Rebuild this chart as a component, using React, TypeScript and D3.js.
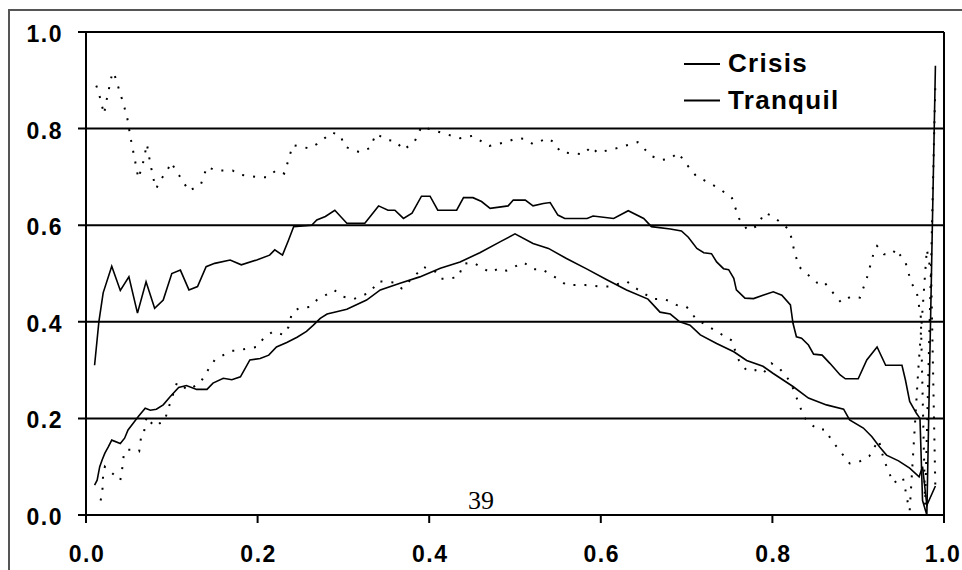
import React from "react";
import * as d3 from "d3";

const xTicks = [0, 0.2, 0.4, 0.6, 0.8, 1.0];
const yTicks = [0, 0.2, 0.4, 0.6, 0.8, 1.0];
const legendLabels = ["Crisis", "Tranquil"];
const pageNumber = "39";

// Crisis (solid, upper curve)
const crisis: [number, number][] = [
  [0.01,0.31],[0.015,0.40],[0.02,0.46],[0.03,0.515],[0.04,0.465],[0.05,0.493],[0.06,0.418],[0.07,0.483],[0.08,0.428],[0.09,0.445],
  [0.10,0.50],[0.11,0.507],[0.12,0.466],[0.13,0.473],[0.14,0.514],[0.15,0.521],[0.168,0.528],[0.181,0.518],[0.199,0.528],[0.214,0.538],
  [0.22,0.549],[0.229,0.538],[0.236,0.569],[0.242,0.597],[0.263,0.60],[0.269,0.611],[0.279,0.618],[0.29,0.631],[0.304,0.604],[0.325,0.604],
  [0.341,0.64],[0.352,0.631],[0.36,0.631],[0.37,0.614],[0.38,0.625],[0.391,0.66],[0.401,0.66],[0.41,0.631],[0.432,0.631],[0.44,0.657],
  [0.451,0.657],[0.461,0.649],[0.471,0.635],[0.492,0.64],[0.498,0.652],[0.512,0.652],[0.521,0.64],[0.533,0.645],[0.541,0.647],[0.55,0.621],
  [0.558,0.614],[0.584,0.614],[0.591,0.619],[0.615,0.614],[0.632,0.63],[0.65,0.614],[0.659,0.597],[0.681,0.592],[0.694,0.588],[0.702,0.575],
  [0.712,0.552],[0.72,0.543],[0.729,0.541],[0.735,0.524],[0.743,0.51],[0.749,0.508],[0.755,0.49],[0.758,0.466],[0.768,0.449],[0.778,0.448],
  [0.789,0.455],[0.801,0.462],[0.811,0.455],[0.821,0.435],[0.824,0.397],[0.828,0.369],[0.834,0.366],[0.842,0.352],[0.848,0.333],[0.858,0.331],
  [0.867,0.314],[0.879,0.29],[0.885,0.282],[0.90,0.282],[0.91,0.321],[0.922,0.348],[0.932,0.31],[0.951,0.31],[0.955,0.28],[0.96,0.235],
  [0.968,0.21],[0.972,0.2],[0.975,0.03],[0.98,0.0],[0.99,0.93],
];

// Crisis band (dotted, upper)
const crisisDots: [number, number][] = [
  [0.012,0.889],[0.015,0.873],[0.017,0.859],[0.021,0.83],[0.024,0.859],[0.026,0.876],[0.029,0.902],[0.031,0.917],[0.034,0.907],[0.043,0.855],
  [0.048,0.823],[0.052,0.78],[0.057,0.735],[0.061,0.697],[0.066,0.725],[0.071,0.768],[0.075,0.727],[0.08,0.685],[0.082,0.676],[0.085,0.688],
  [0.096,0.718],[0.099,0.73],[0.12,0.671],[0.134,0.685],[0.141,0.721],[0.152,0.713],[0.171,0.713],[0.178,0.705],[0.199,0.70],[0.211,0.699],
  [0.222,0.714],[0.231,0.707],[0.236,0.735],[0.241,0.766],[0.26,0.759],[0.269,0.768],[0.287,0.792],[0.297,0.785],[0.301,0.763],[0.319,0.751],
  [0.331,0.76],[0.338,0.789],[0.352,0.776],[0.361,0.774],[0.37,0.756],[0.383,0.773],[0.391,0.804],[0.436,0.78],[0.45,0.785],[0.47,0.764],
  [0.491,0.773],[0.502,0.78],[0.511,0.779],[0.521,0.768],[0.538,0.78],[0.546,0.771],[0.553,0.751],[0.58,0.747],[0.589,0.763],[0.596,0.75],
  [0.618,0.759],[0.643,0.772],[0.648,0.763],[0.659,0.743],[0.671,0.735],[0.681,0.738],[0.69,0.75],[0.70,0.726],[0.711,0.702],[0.738,0.676],
  [0.753,0.656],[0.761,0.614],[0.771,0.59],[0.782,0.598],[0.791,0.626],[0.801,0.618],[0.82,0.59],[0.826,0.543],[0.831,0.514],[0.852,0.481],
  [0.859,0.485],[0.88,0.44],[0.891,0.452],[0.902,0.45],[0.91,0.49],[0.918,0.542],[0.922,0.557],[0.93,0.54],[0.94,0.54],[0.944,0.551],
  [0.948,0.54],[0.955,0.524],[0.962,0.48],[0.968,0.464],[0.973,0.41],[0.978,0.02],[0.984,0.45],[0.99,0.9],
];

// Tranquil (solid, lower curve)
const tranquil: [number, number][] = [
  [0.01,0.062],[0.013,0.072],[0.016,0.10],[0.019,0.115],[0.022,0.128],[0.026,0.141],[0.03,0.155],[0.04,0.148],[0.045,0.159],[0.049,0.176],
  [0.055,0.19],[0.061,0.204],[0.069,0.221],[0.075,0.217],[0.082,0.219],[0.09,0.228],[0.098,0.245],[0.108,0.264],[0.117,0.268],[0.129,0.26],
  [0.141,0.26],[0.148,0.273],[0.16,0.283],[0.17,0.28],[0.18,0.286],[0.191,0.321],[0.203,0.324],[0.213,0.331],[0.222,0.348],[0.234,0.357],
  [0.246,0.368],[0.257,0.38],[0.265,0.393],[0.273,0.407],[0.281,0.416],[0.292,0.421],[0.304,0.426],[0.327,0.445],[0.343,0.466],[0.366,0.48],
  [0.389,0.493],[0.413,0.511],[0.436,0.524],[0.459,0.543],[0.483,0.566],[0.50,0.582],[0.521,0.562],[0.539,0.552],[0.56,0.531],[0.584,0.509],
  [0.607,0.487],[0.63,0.466],[0.655,0.447],[0.669,0.42],[0.681,0.416],[0.692,0.40],[0.704,0.393],[0.716,0.373],[0.735,0.355],[0.755,0.338],
  [0.77,0.32],[0.789,0.308],[0.801,0.293],[0.824,0.266],[0.842,0.242],[0.863,0.228],[0.883,0.219],[0.89,0.197],[0.906,0.18],[0.916,0.162],
  [0.925,0.141],[0.933,0.124],[0.947,0.112],[0.96,0.097],[0.971,0.079],[0.975,0.1],[0.98,0.02],[0.99,0.06],
];

// Tranquil band (dotted, lower)
const tranquilDots: [number, number][] = [
  [0.017,0.03],[0.019,0.045],[0.02,0.086],[0.022,0.1],[0.04,0.072],[0.042,0.093],[0.044,0.124],[0.047,0.135],[0.059,0.135],[0.062,0.132],
  [0.064,0.159],[0.067,0.162],[0.069,0.19],[0.071,0.204],[0.075,0.193],[0.08,0.183],[0.086,0.19],[0.092,0.195],[0.094,0.21],[0.106,0.274],
  [0.119,0.259],[0.133,0.273],[0.141,0.297],[0.15,0.321],[0.16,0.331],[0.17,0.34],[0.174,0.34],[0.199,0.348],[0.207,0.366],[0.218,0.38],
  [0.23,0.373],[0.236,0.389],[0.24,0.418],[0.248,0.428],[0.261,0.431],[0.269,0.445],[0.279,0.455],[0.289,0.466],[0.30,0.452],[0.312,0.447],
  [0.319,0.452],[0.331,0.461],[0.341,0.484],[0.36,0.481],[0.368,0.469],[0.387,0.502],[0.393,0.514],[0.407,0.504],[0.413,0.489],[0.422,0.489],
  [0.434,0.493],[0.44,0.52],[0.451,0.523],[0.471,0.502],[0.482,0.511],[0.49,0.506],[0.51,0.523],[0.521,0.509],[0.531,0.509],[0.55,0.489],
  [0.56,0.476],[0.582,0.476],[0.601,0.473],[0.61,0.473],[0.63,0.484],[0.636,0.476],[0.643,0.467],[0.661,0.447],[0.673,0.447],[0.68,0.443],
  [0.688,0.435],[0.70,0.431],[0.711,0.406],[0.721,0.395],[0.753,0.361],[0.755,0.348],[0.761,0.32],[0.77,0.299],[0.78,0.30],[0.789,0.293],
  [0.799,0.314],[0.809,0.302],[0.821,0.276],[0.837,0.202],[0.852,0.177],[0.862,0.177],[0.868,0.157],[0.89,0.107],[0.901,0.11],[0.913,0.122],
  [0.918,0.138],[0.924,0.155],[0.93,0.114],[0.941,0.066],[0.948,0.074],[0.952,0.078],[0.955,0.052],[0.958,0.024],[0.96,0.009],[0.97,0.3],
  [0.98,0.55],[0.985,0.5],[0.99,0.05],
];

const W = 962;
const H = 570;

export default function App() {
  const x = d3.scaleLinear().domain([0, 1]).range([86, 944]);
  const y = d3.scaleLinear().domain([0, 1]).range([515, 32]);
  const line = d3
    .line<[number, number]>()
    .x((d) => x(d[0]))
    .y((d) => y(d[1]));

  const tickFont = {
    fontFamily: "'Liberation Sans', Arial, sans-serif",
    fontWeight: 700,
    fontSize: 23,
    letterSpacing: "1.5px",
  } as React.CSSProperties;

  return (
    <svg
      width={W}
      height={H}
      viewBox={`0 0 ${W} ${H}`}
      style={{ position: "absolute", left: 0, top: 0, background: "#fff" }}
    >
      <rect x={0} y={0} width={W} height={H} fill="#fff" />
      {/* outer frame */}
      <path d={`M9,${H + 5} V10 H${W + 5}`} fill="none" stroke="#555" strokeWidth={2} />

      {/* gridlines + left ticks */}
      {yTicks.map((t) => (
        <line key={"g" + t} x1={78} x2={x(1)} y1={y(t)} y2={y(t)} stroke="#000" strokeWidth={2} />
      ))}
      {/* y axis and right border */}
      <line x1={x(0)} x2={x(0)} y1={y(1)} y2={y(0) + 8} stroke="#000" strokeWidth={2} />
      <line x1={x(1)} x2={x(1)} y1={y(1)} y2={y(0) + 8} stroke="#000" strokeWidth={2} />
      {/* x ticks */}
      {xTicks.map((t) => (
        <line key={"xt" + t} x1={x(t)} x2={x(t)} y1={y(0)} y2={y(0) + 8} stroke="#000" strokeWidth={2} />
      ))}

      {/* y tick labels */}
      {yTicks.map((t) => (
        <text key={"yl" + t} x={63} y={y(t) + 2} textAnchor="end" dominantBaseline="central" style={tickFont}>
          {t.toFixed(1)}
        </text>
      ))}
      {/* x tick labels */}
      {xTicks.map((t) => (
        <text key={"xl" + t} x={Math.min(x(t) + 1, 943)} y={554} textAnchor="middle" dominantBaseline="central" style={tickFont}>
          {t.toFixed(1)}
        </text>
      ))}

      {/* series */}
      <path d={line(crisisDots) || ""} fill="none" stroke="#000" strokeWidth={2} strokeDasharray="2 9" />
      <path d={line(tranquilDots) || ""} fill="none" stroke="#000" strokeWidth={2} strokeDasharray="2 9" />
      <path d={line(crisis) || ""} fill="none" stroke="#000" strokeWidth={1.6} />
      <path d={line(tranquil) || ""} fill="none" stroke="#000" strokeWidth={1.6} />

      {/* legend */}
      {legendLabels.map((lab, i) => (
        <g key={lab}>
          <line x1={684} x2={720} y1={64 + i * 36.5} y2={64 + i * 36.5} stroke="#000" strokeWidth={2} />
          <text
            x={728}
            y={63 + i * 36.5}
            dominantBaseline="central"
            style={{
              fontFamily: "'Liberation Sans', Arial, sans-serif",
              fontWeight: 700,
              fontSize: 26,
              letterSpacing: "1.3px",
            }}
          >
            {lab}
          </text>
        </g>
      ))}

      {/* page number */}
      <text
        x={481}
        y={500}
        textAnchor="middle"
        dominantBaseline="central"
        style={{ fontFamily: "'Liberation Serif', 'Times New Roman', serif", fontSize: 26 }}
      >
        {pageNumber}
      </text>
    </svg>
  );
}
